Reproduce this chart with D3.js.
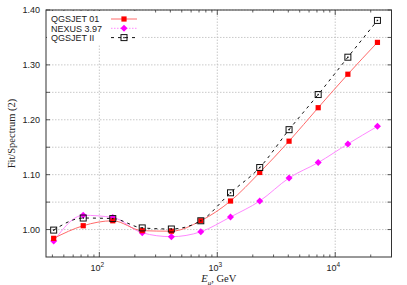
<!DOCTYPE html>
<html>
<head>
<meta charset="utf-8">
<script src="https://cdn.jsdelivr.net/npm/d3@7"></script>
<style>
  body { margin: 0; background: #fff; }
  svg { display: block; }
</style>
</head>
<body>
<div id="chart"></div>
<script>
// Data
var energies = [41, 73, 130, 231, 408, 725, 1295, 2290, 4060, 7170, 12800, 22800];
var qgsjet01 = [0.984, 1.007, 1.016, 0.998, 0.997, 1.016, 1.052, 1.104, 1.161, 1.222, 1.283, 1.341];
var nexus397 = [0.979, 1.026, 1.022, 0.994, 0.987, 0.996, 1.023, 1.052, 1.094, 1.122, 1.156, 1.188];
var qgsjet2 = [0.999, 1.021, 1.020, 1.003, 1.001, 1.016, 1.067, 1.113, 1.182, 1.246, 1.314, 1.381];
var seriesNames = ['QGSJET 01', 'NEXUS 3.97', 'QGSJET II'];
var yTickLabels = ['1.00', '1.10', '1.20', '1.30', '1.40'];
var xTickValues = [100, 1000, 10000];

var width = 407, height = 285;
var margin = { left: 46, top: 10, right: 15.5, bottom: 28 };

var svg = d3.select('#chart').append('svg')
    .attr('width', width)
    .attr('height', height);

var x = d3.scaleLog()
    .domain([35.3, 30000])
    .range([margin.left, width - margin.right]);
var y = d3.scaleLinear()
    .domain([0.95, 1.40])
    .range([height - margin.bottom, margin.top]);

var x0 = margin.left, x1 = width - margin.right;
var y0 = height - margin.bottom, y1 = margin.top;

// Grid lines (dotted gray)
var yGrid = d3.range(1.00, 1.401, 0.05);
svg.append('g').selectAll('line')
    .data(yGrid)
    .enter().append('line')
    .attr('x1', x0).attr('x2', x1)
    .attr('y1', function(d) { return y(d); })
    .attr('y2', function(d) { return y(d); })
    .attr('stroke', '#bbb')
    .attr('stroke-width', 0.8)
    .attr('stroke-dasharray', '1.5,1.5');
svg.append('g').selectAll('line')
    .data(xTickValues)
    .enter().append('line')
    .attr('x1', function(d) { return x(d); })
    .attr('x2', function(d) { return x(d); })
    .attr('y1', y0).attr('y2', y1)
    .attr('stroke', '#bbb')
    .attr('stroke-width', 0.8)
    .attr('stroke-dasharray', '1.5,1.5');

// Ticks pointing inward, mirrored on all four sides
var minorX = [];
[10, 100, 1000, 10000].forEach(function(dec) {
    for (var k = 2; k <= 9; k++) {
        var v = dec * k;
        if (v > 35.3 && v < 30000) minorX.push(v);
    }
});
var ticks = svg.append('g').attr('stroke', '#333').attr('stroke-width', 0.8);
xTickValues.forEach(function(v) {
    ticks.append('line').attr('x1', x(v)).attr('x2', x(v)).attr('y1', y0).attr('y2', y0 - 5);
    ticks.append('line').attr('x1', x(v)).attr('x2', x(v)).attr('y1', y1).attr('y2', y1 + 5);
});
minorX.forEach(function(v) {
    ticks.append('line').attr('x1', x(v)).attr('x2', x(v)).attr('y1', y0).attr('y2', y0 - 2.5);
    ticks.append('line').attr('x1', x(v)).attr('x2', x(v)).attr('y1', y1).attr('y2', y1 + 2.5);
});
yGrid.forEach(function(v) {
    ticks.append('line').attr('x1', x0).attr('x2', x0 + 4).attr('y1', y(v)).attr('y2', y(v));
    ticks.append('line').attr('x1', x1).attr('x2', x1 - 4).attr('y1', y(v)).attr('y2', y(v));
});

// Tick labels
svg.append('g').selectAll('text')
    .data(yTickLabels)
    .enter().append('text')
    .attr('x', x0 - 6)
    .attr('y', function(d) { return y(+d) + 3.2; })
    .attr('text-anchor', 'end')
    .attr('font-family', 'Liberation Sans, Arial, sans-serif')
    .attr('font-size', 9)
    .attr('fill', '#222')
    .text(function(d) { return d; });
var xLab = svg.append('g').selectAll('text')
    .data(xTickValues)
    .enter().append('text')
    .attr('x', function(d) { return x(d) - 2; })
    .attr('y', y0 + 14)
    .attr('text-anchor', 'middle')
    .attr('font-family', 'Liberation Sans, Arial, sans-serif')
    .attr('font-size', 9)
    .attr('fill', '#222');
xLab.append('tspan').text('10');
xLab.append('tspan')
    .attr('dy', -4)
    .attr('font-size', 6.5)
    .text(function(d) { return Math.round(Math.log10(d)); });

// Axis titles
svg.append('text')
    .attr('transform', 'translate(15,' + ((y0 + y1) / 2) + ') rotate(-90)')
    .attr('text-anchor', 'middle')
    .attr('font-family', 'Liberation Serif, Times New Roman, serif')
    .attr('font-size', 10.5)
    .attr('fill', '#222')
    .text('Fit/Spectrum (2)');
var xTitle = svg.append('text')
    .attr('x', (x0 + x1) / 2)
    .attr('y', height - 3)
    .attr('text-anchor', 'middle')
    .attr('font-family', 'Liberation Serif, Times New Roman, serif')
    .attr('font-size', 10.5)
    .attr('fill', '#222');
xTitle.append('tspan').attr('font-style', 'italic').text('E');
xTitle.append('tspan').attr('dy', 2.5).attr('font-size', 7).attr('font-style', 'italic').text('μ');
xTitle.append('tspan').attr('dy', -2.5).text(', GeV');

// Series lines
var pts = function(vals) {
    return energies.map(function(e, i) { return [e, vals[i]]; });
};
var line = d3.line()
    .x(function(d) { return x(d[0]); })
    .y(function(d) { return y(d[1]); })
    .curve(d3.curveMonotoneX);

svg.append('path')
    .attr('d', line(pts(nexus397)))
    .attr('fill', 'none')
    .attr('stroke', '#ff88ff')
    .attr('stroke-width', 1);
svg.append('path')
    .attr('d', line(pts(qgsjet01)))
    .attr('fill', 'none')
    .attr('stroke', '#ff6a6a')
    .attr('stroke-width', 1);
svg.append('path')
    .attr('d', line(pts(qgsjet2)))
    .attr('fill', 'none')
    .attr('stroke', '#111')
    .attr('stroke-width', 1)
    .attr('stroke-dasharray', '3,4');

// Markers
var diamond = function(sel, cx, cy) {
    sel.append('path')
        .attr('d', 'M' + cx + ',' + (cy - 3.5) + 'L' + (cx + 3.5) + ',' + cy + 'L' + cx + ',' + (cy + 3.5) + 'L' + (cx - 3.5) + ',' + cy + 'Z')
        .attr('fill', '#ff00ff');
};
var redSquare = function(sel, cx, cy) {
    sel.append('rect')
        .attr('x', cx - 2.6).attr('y', cy - 2.6)
        .attr('width', 5.2).attr('height', 5.2)
        .attr('fill', '#ff0000');
};
var openSquare = function(sel, cx, cy) {
    sel.append('rect')
        .attr('x', cx - 3).attr('y', cy - 3)
        .attr('width', 6).attr('height', 6)
        .attr('fill', 'none')
        .attr('stroke', '#111')
        .attr('stroke-width', 1);
    sel.append('rect')
        .attr('x', cx - 0.7).attr('y', cy - 0.7)
        .attr('width', 1.4).attr('height', 1.4)
        .attr('fill', '#111');
};
var marks = svg.append('g');
energies.forEach(function(e, i) {
    diamond(marks, x(e), y(nexus397[i]));
    redSquare(marks, x(e), y(qgsjet01[i]));
    openSquare(marks, x(e), y(qgsjet2[i]));
});

// Legend (white box over the grid)
var legend = svg.append('g');
legend.append('rect')
    .attr('x', x0 + 1).attr('y', y1 + 1)
    .attr('width', 95).attr('height', 33)
    .attr('fill', '#fff');
var legendStyles = [
    { stroke: '#ff6a6a', dash: null, mark: redSquare },
    { stroke: '#ff88ff', dash: '1.5,1.5', mark: diamond },
    { stroke: '#111', dash: '3,4', mark: openSquare }
];
seriesNames.forEach(function(name, i) {
    var ly = 19 + i * 9.3;
    legend.append('text')
        .attr('x', 51)
        .attr('y', ly + 3.2)
        .attr('font-family', 'Liberation Sans, Arial, sans-serif')
        .attr('font-size', 9)
        .attr('fill', '#222')
        .text(name);
    legend.append('line')
        .attr('x1', 111).attr('x2', 137)
        .attr('y1', ly).attr('y2', ly)
        .attr('stroke', legendStyles[i].stroke)
        .attr('stroke-width', 1)
        .attr('stroke-dasharray', legendStyles[i].dash);
    legendStyles[i].mark(legend, 124, ly);
});

// Frame
svg.append('rect')
    .attr('x', x0).attr('y', y1)
    .attr('width', x1 - x0).attr('height', y0 - y1)
    .attr('fill', 'none')
    .attr('stroke', '#333')
    .attr('stroke-width', 1);
</script>
</body>
</html>
